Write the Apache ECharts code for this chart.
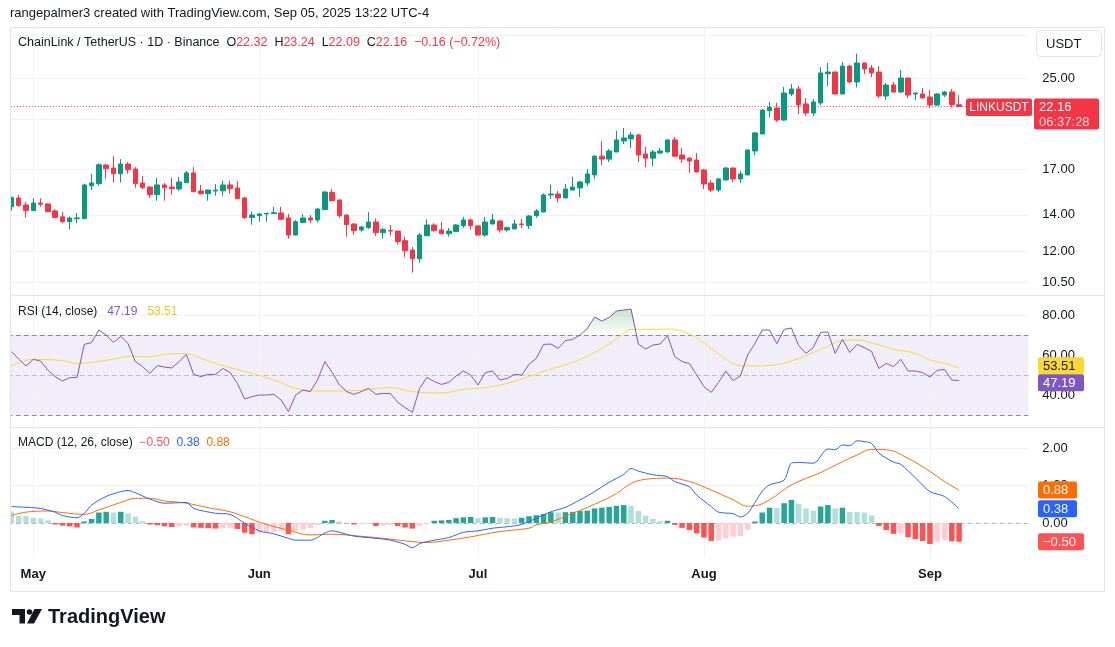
<!DOCTYPE html>
<html>
<head>
<meta charset="utf-8">
<script src="https://cdn.jsdelivr.net/npm/echarts@6/dist/echarts.min.js"></script>
<style>
  html, body { margin: 0; padding: 0; background: #fff; }
  #chart { width: 1115px; height: 647px; }
</style>
</head>
<body>
<div id="chart"></div>
<script>
// day 0 = 2025-04-28, one candle a day up to 2025-09-05 (day 130)
var dayCount = 140; // empty days on the right, like TradingView's margin
var monthNames = ['Jan', 'Feb', 'Mar', 'Apr', 'May', 'Jun', 'Jul', 'Aug', 'Sep', 'Oct', 'Nov', 'Dec'];

// LINKUSDT daily candles: [open, high, low, close]
var ohlc = [
  [14.49, 15.12, 14.25, 15.06], [15.04, 15.23, 14.49, 14.56], [14.60, 14.79, 13.83, 14.25],
  [14.25, 15.02, 14.25, 14.72], [14.72, 15.02, 14.49, 14.64], [14.66, 14.70, 14.17, 14.19],
  [14.23, 14.35, 13.82, 13.84], [13.88, 14.17, 13.51, 13.60], [13.60, 13.90, 13.17, 13.81],
  [13.78, 14.11, 13.51, 13.82], [13.78, 15.98, 13.76, 15.89], [15.84, 16.65, 15.55, 16.02],
  [15.98, 17.42, 15.84, 17.31], [17.29, 17.36, 16.30, 17.02], [17.07, 17.95, 16.05, 16.67],
  [16.67, 17.73, 16.05, 17.36], [17.36, 17.51, 16.67, 16.95], [17.00, 17.14, 15.71, 15.98],
  [16.02, 16.51, 15.62, 15.71], [15.75, 15.78, 15.06, 15.25], [15.25, 16.37, 14.86, 15.89],
  [15.89, 16.02, 14.86, 15.71], [15.75, 16.37, 15.25, 15.64], [15.62, 16.44, 15.50, 16.09],
  [16.04, 16.86, 16.04, 16.72], [16.72, 17.14, 15.42, 15.44], [15.49, 15.89, 15.25, 15.31],
  [15.31, 15.58, 14.86, 15.55], [15.49, 15.96, 15.18, 15.55], [15.50, 16.18, 15.18, 15.89],
  [15.89, 16.18, 15.31, 15.64], [15.69, 16.16, 14.97, 14.99], [15.04, 15.10, 13.76, 13.84],
  [13.84, 14.19, 13.43, 13.99], [13.95, 14.11, 13.60, 14.05], [14.05, 14.11, 13.60, 14.09],
  [14.07, 14.48, 14.06, 14.13], [14.11, 14.48, 13.70, 13.74], [13.82, 14.05, 12.65, 12.85],
  [12.85, 13.70, 12.85, 13.60], [13.55, 14.05, 13.51, 13.82], [13.82, 13.99, 13.51, 13.70],
  [13.70, 14.41, 13.55, 14.35], [14.31, 15.49, 14.31, 15.42], [15.40, 15.62, 14.80, 14.86],
  [14.91, 14.93, 13.83, 13.95], [13.99, 14.01, 12.76, 13.43], [13.47, 13.49, 12.87, 13.09],
  [13.13, 13.36, 13.04, 13.30], [13.26, 14.17, 13.19, 13.58], [13.58, 13.78, 12.81, 12.98],
  [12.98, 13.26, 12.65, 13.15], [13.11, 13.41, 12.81, 13.07], [13.07, 13.09, 12.34, 12.50],
  [12.55, 12.76, 11.71, 12.02], [12.06, 12.22, 10.96, 11.62], [11.62, 12.96, 11.43, 12.85],
  [12.81, 13.74, 12.81, 13.41], [13.41, 13.51, 13.04, 13.09], [13.13, 13.58, 12.90, 12.92],
  [12.92, 13.24, 12.76, 13.07], [13.04, 13.47, 13.02, 13.41], [13.37, 13.88, 13.24, 13.70],
  [13.70, 13.78, 13.15, 13.37], [13.36, 13.39, 12.83, 12.85], [12.85, 13.88, 12.76, 13.58],
  [13.47, 14.05, 13.43, 13.70], [13.64, 13.70, 12.98, 13.13], [13.13, 13.32, 13.04, 13.26],
  [13.19, 13.70, 13.19, 13.47], [13.47, 13.76, 13.24, 13.43], [13.37, 13.99, 13.19, 13.93],
  [13.95, 14.35, 13.83, 14.23], [14.17, 15.34, 14.17, 15.23], [15.23, 15.89, 14.97, 15.29],
  [15.29, 15.49, 14.76, 15.04], [15.04, 15.96, 15.04, 15.62], [15.55, 16.44, 15.55, 15.75],
  [15.69, 16.16, 15.10, 16.09], [16.02, 17.00, 15.82, 16.65], [16.58, 18.04, 16.30, 17.95],
  [17.95, 19.14, 17.29, 17.73], [17.73, 18.51, 17.51, 18.35], [18.27, 19.98, 18.27, 19.23],
  [19.15, 20.23, 18.90, 19.39], [19.31, 19.89, 18.58, 19.64], [19.64, 19.72, 17.51, 18.04],
  [18.12, 18.66, 17.14, 17.80], [17.80, 18.43, 17.22, 18.27], [18.19, 18.58, 18.12, 18.35],
  [18.27, 19.27, 18.23, 19.23], [19.23, 19.47, 17.92, 17.95], [18.04, 18.58, 17.44, 17.73],
  [17.80, 17.88, 16.72, 17.58], [17.66, 18.19, 16.75, 16.79], [16.93, 17.00, 15.62, 15.96],
  [16.02, 16.23, 15.42, 15.55], [15.55, 16.37, 15.42, 16.30], [16.23, 17.14, 16.20, 17.07],
  [17.07, 17.11, 16.09, 16.30], [16.30, 16.86, 16.02, 16.65], [16.58, 18.47, 16.55, 18.43],
  [18.35, 19.89, 18.04, 19.81], [19.72, 21.92, 19.72, 21.83], [21.77, 22.59, 21.16, 22.06],
  [22.02, 22.49, 20.75, 20.92], [20.92, 24.07, 20.84, 23.46], [23.36, 24.37, 23.16, 23.86],
  [23.86, 24.17, 21.46, 22.30], [22.40, 22.97, 21.28, 21.55], [21.55, 22.87, 21.28, 22.59],
  [22.49, 26.18, 22.30, 25.54], [25.46, 26.64, 24.17, 25.64], [25.64, 25.69, 23.31, 23.36],
  [23.36, 26.75, 23.31, 26.30], [26.30, 26.41, 24.48, 24.58], [24.58, 27.73, 24.02, 26.64],
  [26.64, 26.70, 25.43, 25.97], [26.08, 26.41, 25.11, 25.54], [25.64, 26.30, 22.97, 23.16],
  [23.16, 24.48, 22.77, 24.27], [24.27, 24.58, 23.46, 23.56], [23.56, 25.86, 23.46, 25.00],
  [25.00, 25.05, 22.97, 23.26], [23.36, 23.51, 22.77, 23.46], [23.36, 23.97, 22.92, 22.97],
  [23.06, 23.76, 22.02, 22.30], [22.30, 23.46, 22.21, 23.36], [23.26, 23.66, 23.06, 23.56],
  [23.56, 23.86, 22.06, 22.32], [22.32, 23.24, 22.09, 22.16]
];

// RSI (14) one value a day
var rsi = [
  61.7, 58, 54.5, 57.8, 57, 52.5, 49.2, 47, 48.7, 48.7,
  65.3, 66.2, 72.5, 70, 66.3, 69.3, 65.8, 56.7, 54.2, 50.8,
  54.7, 54, 53.5, 56.7, 60.3, 50.3, 49.2, 50.3, 50.3, 53.3,
  51.3, 45.8, 38, 39.2, 40, 40, 40.3, 37.5, 31.7, 40,
  42.5, 41.7, 47.5, 56.7, 51.3, 45, 41.7, 40.3, 41.7, 43.3,
  40.3, 40.8, 40.7, 36.3, 33.7, 31.3, 43.3, 48.8, 46.7, 45.3,
  46.3, 49.5, 52, 50, 45, 51.2, 52, 47.5, 48.3, 50.3,
  50, 55.3, 58.3, 65.3, 65.5, 63.3, 67.2, 67.8, 70, 73.2,
  79, 77, 78.8, 82, 82.5, 83, 65.5, 63, 65, 65.5,
  69.7, 59.2, 56.7, 55.8, 50, 44.2, 41.3, 46.3, 52, 47.2,
  49.5, 60, 65.8, 72.5, 72.5, 65.7, 72.8, 73.5, 64.7, 60.8,
  63.7, 71.3, 71.5, 60.8, 67.8, 61.2, 65.3, 63.7, 61.7, 53.3,
  55.8, 54.2, 57.8, 52, 52, 51.2, 49, 52.3, 52.8, 47.5,
  47.19
];

// RSI moving average, read at [day, value]
var rsiMa = [
  [0, 54.5], [3, 57.8], [7, 57.2], [9, 55.8], [11, 56.3], [14, 58], [16, 59.3], [19, 59.2],
  [21, 60.3], [24, 60.7], [26, 58.3], [28, 55.8], [30, 53.7], [33, 50.8], [36, 47.5], [38, 44.7],
  [40, 42.5], [43, 42], [47, 42.2], [52, 43.7], [55, 41.7], [59, 41], [62, 42.8], [65, 43.7],
  [68, 45.8], [71, 49.2], [74, 53], [76, 55], [79, 59.5], [82, 65.5], [84, 70.8], [85, 72.8],
  [88, 72.8], [90, 73], [93, 70.5], [96, 63.3], [99, 55.8], [101, 54.5], [105, 55.2], [108, 58.3],
  [111, 62.8], [114, 67.2], [116, 67.5], [119, 65], [121, 62.8], [124, 60.8], [126, 57.5],
  [128, 55.8], [130, 53.51]
];

// MACD (12, 26) line and signal, read at [day, value]
var macd = [
  [0, 0.44], [3, 0.41], [4, 0.39], [6, 0.29], [7, 0.20], [9, 0.14], [10, 0.26], [11, 0.48],
  [13, 0.71], [15, 0.84], [16, 0.87], [17, 0.81], [19, 0.64], [21, 0.53], [24, 0.55], [25, 0.39],
  [28, 0.26], [30, 0.23], [32, -0.01], [34, -0.21], [36, -0.29], [38, -0.41], [39, -0.46],
  [41, -0.46], [43, -0.27], [44, -0.21], [45, -0.25], [47, -0.35], [50, -0.41], [52, -0.46],
  [54, -0.57], [55, -0.66], [56, -0.55], [58, -0.46], [60, -0.39], [62, -0.25], [64, -0.21],
  [66, -0.14], [68, -0.10], [70, -0.04], [72, 0.13], [74, 0.30], [76, 0.42], [78, 0.62],
  [80, 0.84], [82, 1.09], [84, 1.30], [85, 1.46], [86, 1.39], [88, 1.29], [90, 1.24], [91, 1.11],
  [93, 0.97], [94, 0.75], [96, 0.44], [97, 0.29], [99, 0.25], [100, 0.16], [101, 0.26],
  [102, 0.55], [103, 0.85], [104, 1.02], [106, 1.15], [107, 1.60], [108, 1.62], [110, 1.60],
  [112, 1.98], [113, 1.96], [114, 2.09], [115, 2.07], [116, 2.20], [117, 2.18], [118, 2.13],
  [119, 1.87], [121, 1.63], [122, 1.57], [124, 1.21], [126, 0.84], [128, 0.71], [130, 0.38]
];
var signal = [
  [0, 0.20], [2, 0.29], [5, 0.32], [7, 0.28], [10, 0.23], [12, 0.35], [15, 0.55], [17, 0.66],
  [19, 0.66], [21, 0.59], [24, 0.53], [27, 0.41], [30, 0.30], [32, 0.17], [35, -0.04],
  [38, -0.19], [41, -0.32], [44, -0.30], [47, -0.34], [51, -0.41], [55, -0.50], [57, -0.52],
  [60, -0.46], [63, -0.37], [67, -0.23], [71, -0.14], [72, -0.05], [74, 0.03], [77, 0.26],
  [80, 0.50], [83, 0.79], [85, 1.06], [87, 1.17], [90, 1.20], [93, 1.11], [96, 0.88],
  [99, 0.62], [101, 0.45], [102, 0.46], [104, 0.62], [107, 1.02], [111, 1.35], [114, 1.64],
  [116, 1.82], [118, 1.97], [120, 1.96], [123, 1.73], [126, 1.38], [128, 1.11], [130, 0.88]
];
// MACD histogram one value a day
var hist = [
  0.30, 0.19, 0.18, 0.14, 0.12, 0.07, -0.04, -0.07, -0.09, -0.12,
  0.04, 0.11, 0.28, 0.30, 0.28, 0.30, 0.26, 0.17, 0.05, -0.04,
  -0.06, -0.09, -0.11, -0.09, -0.07, -0.12, -0.13, -0.14, -0.15, -0.14,
  -0.13, -0.16, -0.26, -0.30, -0.27, -0.25, -0.24, -0.22, -0.30, -0.22,
  -0.18, -0.14, -0.06, 0.06, 0.08, 0.04, 0.01, -0.04, -0.03, -0.02,
  -0.08, -0.07, -0.06, -0.08, -0.12, -0.15, -0.08, -0.02, 0.06, 0.07,
  0.08, 0.13, 0.15, 0.16, 0.13, 0.15, 0.16, 0.14, 0.13, 0.12,
  0.14, 0.18, 0.21, 0.24, 0.29, 0.28, 0.29, 0.30, 0.32, 0.33,
  0.39, 0.41, 0.43, 0.46, 0.48, 0.46, 0.32, 0.20, 0.11, 0.05,
  0.06, -0.05, -0.13, -0.19, -0.28, -0.39, -0.48, -0.47, -0.41, -0.37,
  -0.35, -0.19, 0.04, 0.28, 0.41, 0.40, 0.53, 0.62, 0.51, 0.39,
  0.33, 0.44, 0.48, 0.39, 0.41, 0.30, 0.29, 0.28, 0.20, -0.08,
  -0.19, -0.29, -0.28, -0.38, -0.43, -0.48, -0.56, -0.50, -0.45, -0.49,
  -0.50
];

// axis levels
var priceGrid = [30, 25, 21, 17, 14, 12, 10.5];
var priceLabels = [25, 17, 14, 12, 10.5];
var rsiGrid = [80, 60, 40];
var rsiBands = [70, 50, 30];
var macdGrid = [2, 1];

var FONT = 'Liberation Sans, Arial, sans-serif';
var UP = '#089981', DOWN = '#f23645', GRIDC = '#f0f2f6';

var dates = [];
for (var d = 0; d < dayCount; d++) {
  dates.push(new Date(Date.UTC(2025, 3, 28 + d)).toISOString().slice(0, 10));
}
var monthStarts = dates.filter(function (s) { return s.slice(8) === '01'; });

function vLines() {
  return monthStarts.map(function (s) {
    return { xAxis: s, lineStyle: { color: GRIDC, type: 'solid', width: 1 }, label: { show: false } };
  });
}
function hLine(v, color, type, text) {
  return {
    yAxis: v,
    lineStyle: { color: color, type: type, width: 1 },
    label: text ? { show: true, formatter: text } : { show: false }
  };
}
function markLine(data) {
  return {
    silent: true, symbol: ['none', 'none'], z: 1, animation: false,
    emphasis: { disabled: true },
    label: { position: 'end', distance: 14, color: '#131722', fontSize: 13, fontFamily: FONT },
    data: data
  };
}

var priceLines = vLines();
priceGrid.forEach(function (v) {
  priceLines.push(hLine(v, GRIDC, 'solid', priceLabels.indexOf(v) >= 0 ? v.toFixed(2) : null));
});
var lastClose = ohlc[ohlc.length - 1][3];
priceLines.push(hLine(lastClose, DOWN, [1, 2], null));

var rsiLines = vLines();
rsiGrid.forEach(function (v) { rsiLines.push(hLine(v, GRIDC, 'solid', v.toFixed(2))); });
rsiBands.forEach(function (v) {
  rsiLines.push(hLine(v, v === 50 ? 'rgba(120,123,134,0.45)' : '#8a8d96', [5, 3], null));
});

var macdLines = vLines();
macdGrid.forEach(function (v) { macdLines.push(hLine(v, GRIDC, 'solid', v.toFixed(2))); });
macdLines.push(hLine(0, 'rgba(120,123,134,0.5)', [5, 3], '0.00'));

function histColor(i) {
  var v = hist[i];
  var prev = i > 0 ? hist[i - 1] : null;
  if (v >= 0) return (prev !== null && v > prev) ? '#26a69a' : '#b2dfdb';
  return (prev !== null && v < prev) ? '#ff5252' : '#ffcdd2';
}

var gridW = 1020.6, gridL = 7.75;
function xAx(idx, showLabel) {
  return {
    type: 'category', gridIndex: idx, data: dates, boundaryGap: true,
    axisLine: { show: false }, axisTick: { show: false }, splitLine: { show: false },
    axisLabel: showLabel ? {
      show: true, margin: 10, color: '#131722', fontSize: 13, fontWeight: 'bold', fontFamily: FONT,
      interval: function (i, v) { return v.slice(8) === '01'; },
      formatter: function (v) { return monthNames[+v.slice(5, 7) - 1]; }
    } : { show: false }
  };
}
function yAx(idx, type, min, max) {
  return {
    type: type, gridIndex: idx, min: min, max: max, position: 'right', scale: true,
    axisLine: { show: false }, axisTick: { show: false }, axisLabel: { show: false }, splitLine: { show: false }
  };
}

var chart = echarts.init(document.getElementById('chart'));
var option = {
  animation: false,
  backgroundColor: '#ffffff',
  grid: [
    { left: gridL, top: 28, width: gridW, height: 267 },
    { left: gridL, top: 296, width: gridW, height: 131 },
    { left: gridL, top: 428, width: gridW, height: 130 }
  ],
  xAxis: [xAx(0, false), xAx(1, false), xAx(2, true)],
  yAxis: [
    Object.assign(yAx(0, 'log', 9.968, 30.9), { logBase: 10 }),
    yAx(1, 'value', 24, 89.5),
    yAx(2, 'value', -0.937, 2.543)
  ],
  series: [
    {
      type: 'candlestick', xAxisIndex: 0, yAxisIndex: 0, barWidth: 5, z: 3,
      data: ohlc.map(function (r) { return [r[0], r[3], r[2], r[1]]; }),
      itemStyle: { color: UP, color0: DOWN, borderColor: UP, borderColor0: DOWN, borderWidth: 1 },
      markLine: markLine(priceLines)
    },
    {
      type: 'line', xAxisIndex: 1, yAxisIndex: 1, z: 2, symbol: 'none', silent: true,
      data: rsi.map(function (v) { return Math.max(v, 70); }),
      lineStyle: { width: 0 },
      areaStyle: {
        origin: 70,
        color: new echarts.graphic.LinearGradient(0, 0, 0, 1, [
          { offset: 0, color: 'rgba(76,175,80,0.45)' },
          { offset: 1, color: 'rgba(76,175,80,0.02)' }
        ])
      }
    },
    {
      type: 'line', xAxisIndex: 1, yAxisIndex: 1, z: 4, symbol: 'none', data: rsi,
      lineStyle: { color: '#7e57c2', width: 1 },
      markLine: markLine(rsiLines),
      markArea: {
        silent: true, z: 0,
        itemStyle: { color: 'rgba(126,87,194,0.1)' },
        data: [[{ yAxis: 30 }, { yAxis: 70 }]]
      }
    },
    {
      type: 'line', xAxisIndex: 1, yAxisIndex: 1, z: 3, symbol: 'none', smooth: 0.4, data: rsiMa,
      lineStyle: { color: '#fdd835', width: 1 }
    },
    {
      type: 'bar', xAxisIndex: 2, yAxisIndex: 2, z: 2, barWidth: 5.5,
      data: hist.map(function (v, i) { return { value: v, itemStyle: { color: histColor(i) } }; }),
      markLine: markLine(macdLines)
    },
    {
      type: 'line', xAxisIndex: 2, yAxisIndex: 2, z: 4, symbol: 'none', smooth: 0.3, data: macd,
      lineStyle: { color: '#2962ff', width: 1 }
    },
    {
      type: 'line', xAxisIndex: 2, yAxisIndex: 2, z: 3, symbol: 'none', smooth: 0.4, data: signal,
      lineStyle: { color: '#ff6d00', width: 1 }
    }
  ]
};
chart.setOption(option);

// overlays placed with the chart's own scales
function fmt(v) { return (v < 0 ? '\u2212' : '') + Math.abs(v).toFixed(2); }
function tag(x, yc, w, h, bg, text, color) {
  return [
    { type: 'rect', z: 100, shape: { x: x, y: yc - h / 2, width: w, height: h, r: 2 }, style: { fill: bg } },
    { type: 'text', z: 101, x: x + 5, y: yc + 0.5,
      style: { text: text, fill: color, font: '13px ' + FONT, verticalAlign: 'middle', align: 'left' } }
  ];
}

var yPrice = chart.convertToPixel({ yAxisIndex: 0 }, lastClose);
var rsiLast = rsi[rsi.length - 1], rsiMaLast = rsiMa[rsiMa.length - 1][1];
var yR1 = chart.convertToPixel({ yAxisIndex: 1 }, rsiMaLast);
var yR2 = chart.convertToPixel({ yAxisIndex: 1 }, rsiLast);
if (yR2 - yR1 < 17) { var push = (17 - (yR2 - yR1)) / 2; yR1 -= push; yR2 += push; }
var macdLast = macd[macd.length - 1][1], sigLast = signal[signal.length - 1][1], histLast = hist[hist.length - 1];
var yM1 = chart.convertToPixel({ yAxisIndex: 2 }, sigLast);
var yM2 = chart.convertToPixel({ yAxisIndex: 2 }, macdLast);
var yM3 = chart.convertToPixel({ yAxisIndex: 2 }, histLast);

var g = [];
// frame and pane separators
g.push({ type: 'rect', z: 50, shape: { x: 10.5, y: 27.5, width: 1094, height: 564 },
  style: { fill: 'none', stroke: '#e0e3eb', lineWidth: 1 } });
[295.5, 427.5].forEach(function (y) {
  g.push({ type: 'line', z: 50, shape: { x1: 10, y1: y, x2: 1105, y2: y }, style: { stroke: '#e0e3eb', lineWidth: 1 } });
});
// white strip hides what falls left of the frame
g.push({ type: 'rect', z: 49, shape: { x: 0, y: 28, width: 10, height: 563 }, style: { fill: '#fff' } });

// header texts
g.push({ type: 'text', z: 60, x: 10, y: 13,
  style: { text: 'rangepalmer3 created with TradingView.com, Sep 05, 2025 13:22 UTC-4', fill: '#131722',
    font: '13px ' + FONT, verticalAlign: 'middle' } });
var o = ohlc[ohlc.length - 1], prevClose = ohlc[ohlc.length - 2][3];
var chg = o[3] - prevClose;
g.push({ type: 'text', z: 60, x: 18, y: 43,
  style: {
    text: '{k|ChainLink / TetherUS \u00b7 1D \u00b7 Binance}  {k|O}{v|' + o[0].toFixed(2) + '}  {k|H}{v|' + o[1].toFixed(2) +
      '}  {k|L}{v|' + o[2].toFixed(2) + '}  {k|C}{v|' + o[3].toFixed(2) + '}  {v|' + fmt(chg) + ' (' + fmt(chg / prevClose * 100) + '%)}',
    font: '12.5px ' + FONT, verticalAlign: 'middle',
    rich: { k: { fill: '#131722', font: '12.5px ' + FONT }, v: { fill: DOWN, font: '12.5px ' + FONT } }
  } });
g.push({ type: 'text', z: 60, x: 18, y: 312,
  style: {
    text: '{k|RSI (14, close)}   {p|' + rsiLast.toFixed(2) + '}   {y|' + rsiMaLast.toFixed(2) + '}',
    font: '12px ' + FONT, verticalAlign: 'middle',
    rich: { k: { fill: '#131722', font: '12px ' + FONT }, p: { fill: '#7e57c2', font: '12px ' + FONT },
      y: { fill: '#f5c518', font: '12px ' + FONT } }
  } });
g.push({ type: 'text', z: 60, x: 18, y: 443,
  style: {
    text: '{k|MACD (12, 26, close)}  {r|' + fmt(histLast) + '}  {b|' + fmt(macdLast) + '}  {o|' + fmt(sigLast) + '}',
    font: '12px ' + FONT, verticalAlign: 'middle',
    rich: { k: { fill: '#131722', font: '12px ' + FONT }, r: { fill: '#ff5252', font: '12px ' + FONT },
      b: { fill: '#2962ff', font: '12px ' + FONT }, o: { fill: '#ff6d00', font: '12px ' + FONT } }
  } });

// currency box
g.push({ type: 'rect', z: 100, shape: { x: 1036.5, y: 30.5, width: 65, height: 26, r: 4 },
  style: { fill: '#fff', stroke: '#e0e3eb', lineWidth: 1 } });
g.push({ type: 'text', z: 101, x: 1046, y: 44,
  style: { text: 'USDT', fill: '#131722', font: '13px ' + FONT, verticalAlign: 'middle' } });

// last price tags
g.push({ type: 'rect', z: 100, shape: { x: 966, y: yPrice - 8, width: 66, height: 17.5, r: 2 }, style: { fill: DOWN } });
g.push({ type: 'text', z: 101, x: 999, y: yPrice + 1,
  style: { text: 'LINKUSDT', fill: '#fff', font: '12px ' + FONT, verticalAlign: 'middle', align: 'center' } });
g.push({ type: 'rect', z: 100, shape: { x: 1034, y: yPrice - 8, width: 65, height: 31, r: 2 }, style: { fill: DOWN } });
g.push({ type: 'text', z: 101, x: 1039, y: yPrice + 1,
  style: { text: lastClose.toFixed(2), fill: '#fff', font: '13px ' + FONT, verticalAlign: 'middle' } });
g.push({ type: 'text', z: 101, x: 1039, y: yPrice + 16,
  style: { text: '06:37:28', fill: 'rgba(255,255,255,0.8)', font: '13px ' + FONT, verticalAlign: 'middle' } });

g = g.concat(tag(1038, yR1, 46, 17, '#fdd835', rsiMaLast.toFixed(2), '#131722'));
g = g.concat(tag(1038, yR2, 46, 17, '#7e57c2', rsiLast.toFixed(2), '#fff'));
g = g.concat(tag(1038, yM1, 39, 17, '#ff6d00', fmt(sigLast), '#fff'));
g = g.concat(tag(1038, yM2, 39, 17, '#2962ff', fmt(macdLast), '#fff'));
g = g.concat(tag(1038, yM3, 46, 17, '#ff5252', fmt(histLast), '#fff'));

// TradingView logo
g.push({ type: 'polygon', z: 60, shape: { points: [[12, 609], [25, 609], [25, 623.5], [19.5, 623.5], [19.5, 615], [12, 615]] },
  style: { fill: '#131722' } });
g.push({ type: 'circle', z: 60, shape: { cx: 29.5, cy: 612, r: 2.8 }, style: { fill: '#131722' } });
g.push({ type: 'polygon', z: 60, shape: { points: [[34.5, 609], [42, 609], [34, 623.5], [27, 623.5]] },
  style: { fill: '#131722' } });
g.push({ type: 'text', z: 60, x: 48, y: 617,
  style: { text: 'TradingView', fill: '#131722', font: 'bold 20px ' + FONT, verticalAlign: 'middle' } });

chart.setOption({ graphic: { elements: g } });
</script>
</body>
</html>
